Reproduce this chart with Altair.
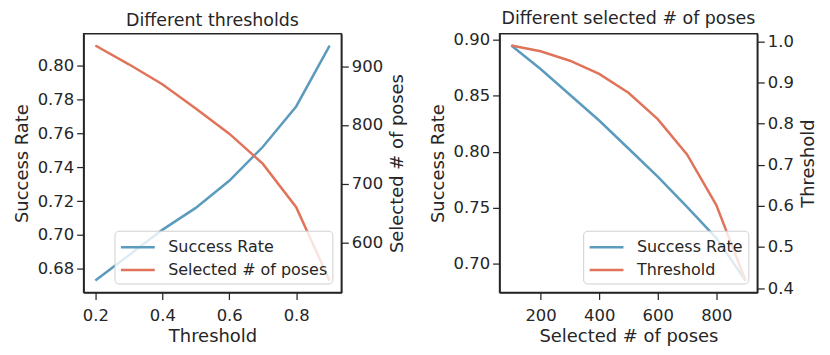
import altair as alt
import pandas as pd

# Left panel: different thresholds
thr = [0.2, 0.3, 0.4, 0.5, 0.6, 0.7, 0.8, 0.9]
thr_success = [0.673, 0.688, 0.703, 0.716, 0.732, 0.752, 0.776, 0.812]
thr_selected = [935, 903, 869, 828, 785, 734, 660, 535]

# Right panel: different selected # of poses
poses = [100, 200, 300, 400, 500, 600, 700, 800, 900]
poses_success = [0.895, 0.874, 0.851, 0.828, 0.803, 0.778, 0.751, 0.723, 0.685]
poses_threshold = [0.990, 0.976, 0.953, 0.921, 0.875, 0.811, 0.725, 0.602, 0.418]

BLUE = "#5B9BBE"
RED = "#E0735A"
INK = "#262626"
FONT = "DejaVu Sans"
W, H = 259, 260
LBL = 16.5
TTL = 18

left_df = pd.DataFrame(
    {"x": thr * 2,
     "v": thr_success + thr_selected,
     "series": ["Success Rate"] * len(thr) + ["Selected # of poses"] * len(thr)}
)
right_df = pd.DataFrame(
    {"x": poses * 2,
     "v": poses_success + poses_threshold,
     "series": ["Success Rate"] * len(poses) + ["Threshold"] * len(poses)}
)


def legend():
    return alt.Legend(
        title=None, orient="bottom-right", offset=9,
        fillColor="rgba(255,255,255,0.8)", strokeColor="#d0d0d0",
        cornerRadius=4, padding=5, symbolType="M-1,0L2.4,0",
        symbolStrokeWidth=2.5, symbolSize=400, labelFontSize=16,
        labelFont=FONT, labelColor=INK, rowPadding=3, labelOffset=26,
        labelLimit=400, symbolOpacity=1,
    )


def panel(df, names, title, xtitle, xdom, xticks, xfmt,
          ldom, lticks, lfmt, ltitle, rdom, rticks, rfmt, rtitle):
    color = alt.Color("series:N",
                      scale=alt.Scale(domain=names, range=[BLUE, RED]),
                      legend=legend())
    x = alt.X("x:Q", title=xtitle,
              scale=alt.Scale(domain=xdom, nice=False, zero=False),
              axis=alt.Axis(values=xticks, format=xfmt, labelPadding=8,
                            titlePadding=4))
    base = alt.Chart(df).mark_line(strokeWidth=2.5, clip=True)
    l1 = base.transform_filter(alt.datum.series == names[0]).encode(
        x=x,
        y=alt.Y("v:Q", title=ltitle,
                scale=alt.Scale(domain=ldom, nice=False, zero=False),
                axis=alt.Axis(values=lticks, format=lfmt, orient="left")),
        color=color,
    )
    l2 = base.transform_filter(alt.datum.series == names[1]).encode(
        x=x,
        y=alt.Y("v:Q", title=rtitle,
                scale=alt.Scale(domain=rdom, nice=False, zero=False),
                axis=alt.Axis(values=rticks, format=rfmt, orient="right",
                              titleAngle=270, titleBaseline="top")),
        color=color,
    )
    return alt.layer(l1, l2).resolve_scale(y="independent").properties(
        width=W, height=H, title=title)


left = panel(left_df, ["Success Rate", "Selected # of poses"],
             "Different thresholds", "Threshold",
             [0.165, 0.935], [0.2, 0.4, 0.6, 0.8], ".1f",
             [0.666, 0.819], [0.68, 0.70, 0.72, 0.74, 0.76, 0.78, 0.80], ".2f",
             "Success Rate",
             [515, 955], [600, 700, 800, 900], "d", "Selected # of poses")

right = panel(right_df, ["Success Rate", "Threshold"],
              "Different selected # of poses", "Selected # of poses",
              [60, 940], [200, 400, 600, 800], "d",
              [0.6745, 0.9055], [0.70, 0.75, 0.80, 0.85, 0.90], ".2f",
              "Success Rate",
              [0.3894, 1.0186], [0.4, 0.5, 0.6, 0.7, 0.8, 0.9, 1.0], ".1f",
              "Threshold")

chart = alt.hconcat(left, right, spacing=20).resolve_scale(
    color="independent"
).properties(
    padding={"left": 4, "top": 0, "right": 4, "bottom": 4},
    background="white",
).configure_view(
    stroke=INK, strokeWidth=1.5,
).configure_axis(
    grid=False, domainColor=INK, domainWidth=1.5, tickColor=INK,
    tickWidth=1.25, tickSize=7, labelFont=FONT, labelFontSize=LBL,
    labelColor=INK, labelPadding=3, titleFont=FONT, titleFontSize=TTL,
    titleFontWeight="normal", titleColor=INK, titlePadding=6,
).configure_title(
    font=FONT, fontSize=17.5, fontWeight="normal", color=INK, offset=4,
)

chart.save("out.html", embed_options={"renderer": "svg", "actions": False})
